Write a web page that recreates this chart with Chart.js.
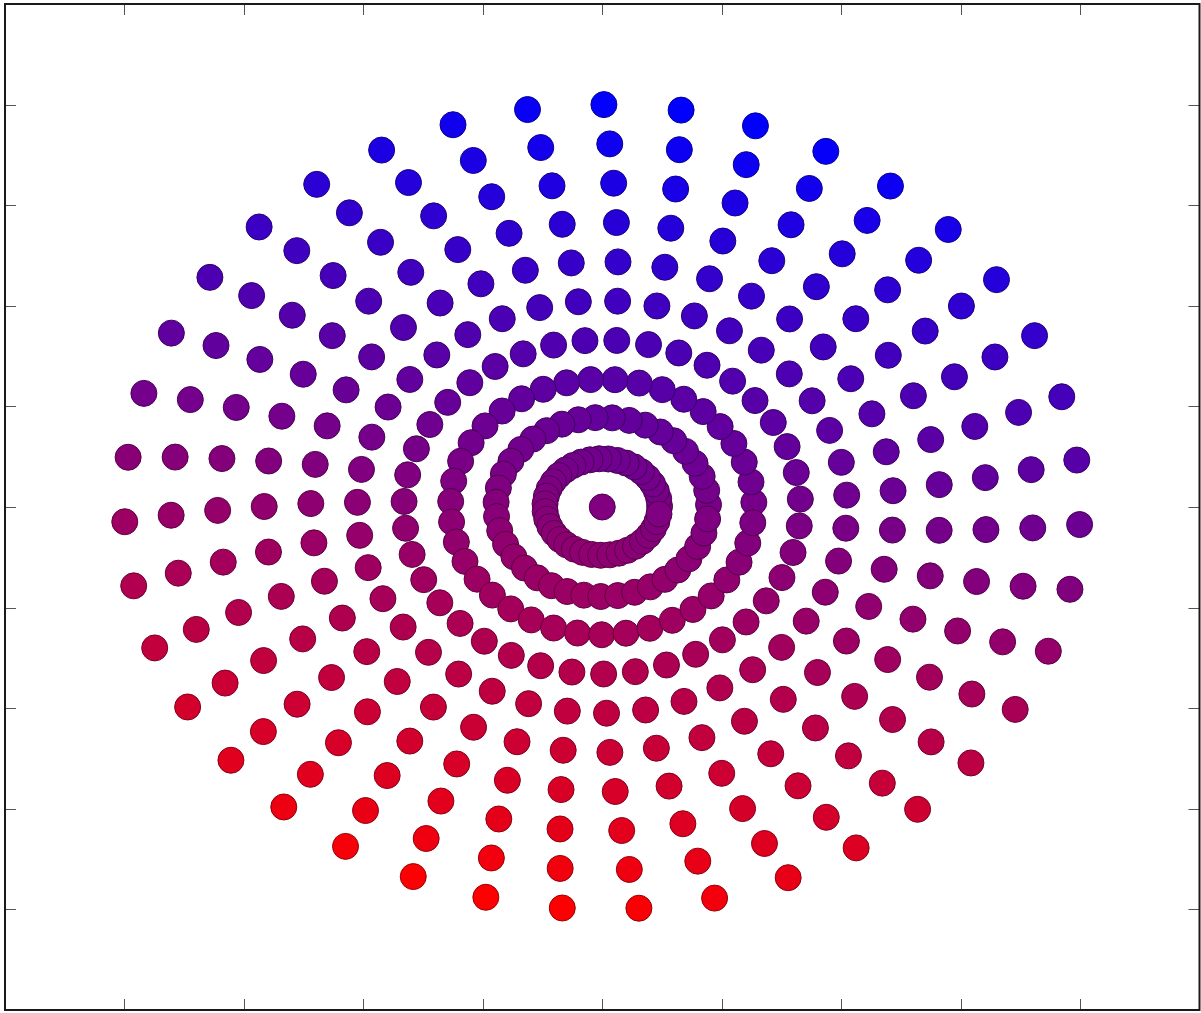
<!DOCTYPE html>
<html>
<head>
<meta charset="utf-8">
<title>Polar dot rings</title>
<script src="https://cdn.jsdelivr.net/npm/chart.js@4/dist/chart.umd.min.js"></script>
<style>
  html, body { margin: 0; padding: 0; background: #ffffff; overflow: hidden; }
  canvas { display: block; }
</style>
</head>
<body>
<canvas id="chart" width="1201" height="1013"></canvas>
<script>
// Ring radii (data units), innermost first; the first entry is the single centre dot.
const ringRadii = [0, 0.48, 0.89, 1.27, 1.66, 2.05, 2.44, 2.83, 3.22, 3.61, 4.0];
// Angular twist of each ring (degrees), same order as ringRadii.
const ringTwistDeg = [0, 0.8, 1.5, 2.1, 2.7, 3.3, 3.8, 4.5, 5.2, 5.9, 6.7];
// Spoke angles (degrees) shared by every ring.
const spokeAnglesDeg = [
  0, 9.2, 18.5, 27.7, 36.9, 46.2, 55.4, 64.6, 73.8, 83.1,
  92.3, 101.5, 110.8, 120.0, 129.2, 138.5, 147.7, 156.9, 166.2, 175.4,
  184.6, 193.8, 203.1, 212.3, 221.5, 230.8, 240.0, 249.2, 258.5, 267.7,
  276.9, 286.2, 295.4, 304.6, 313.8, 323.1, 332.3, 341.5, 350.8
];
// Tick positions on both axes.
const xTicks = [-4, -3, -2, -1, 0, 1, 2, 3, 4];
const yTicks = [-4, -3, -2, -1, 0, 1, 2, 3, 4];

// Polar (ring, spoke) pairs converted to x/y points.
const points = [];
ringRadii.forEach((r, i) => {
  if (r === 0) { points.push({ x: 0, y: 0 }); return; }
  spokeAnglesDeg.forEach(a => {
    const t = (a + ringTwistDeg[i]) * Math.PI / 180;
    points.push({ x: r * Math.cos(t), y: r * Math.sin(t) });
  });
});

// Blue at the top, red at the bottom, slightly tilted towards the lower left.
function mix(p, dark) {
  let f = 0.5 - (p.y + 0.2 * p.x) / 8.2;
  f = Math.max(0, Math.min(1, f));
  const k = dark ? 0.6 : 1;
  return `rgb(${Math.round(255 * f * k)},0,${Math.round(255 * (1 - f) * k)})`;
}

// Frame and inward-pointing ticks on all four sides.
const framePlugin = {
  id: 'frame',
  afterDraw(chart) {
    const { ctx, chartArea: a, scales: { x, y } } = chart;
    ctx.save();
    ctx.strokeStyle = '#555555';
    ctx.lineWidth = 1;
    const len = 11;
    ctx.beginPath();
    xTicks.forEach(v => {
      const px = Math.round(x.getPixelForValue(v)) + 0.5;
      ctx.moveTo(px, a.top); ctx.lineTo(px, a.top + len);
      ctx.moveTo(px, a.bottom); ctx.lineTo(px, a.bottom - len);
    });
    yTicks.forEach(v => {
      const py = Math.round(y.getPixelForValue(v)) + 0.5;
      ctx.moveTo(a.left, py); ctx.lineTo(a.left + len, py);
      ctx.moveTo(a.right, py); ctx.lineTo(a.right - len, py);
    });
    ctx.stroke();
    ctx.strokeStyle = '#1a1a1a';
    ctx.lineWidth = 2;
    ctx.strokeRect(a.left, a.top, a.right - a.left, a.bottom - a.top);
    ctx.restore();
  }
};

new Chart(document.getElementById('chart'), {
  type: 'scatter',
  data: {
    datasets: [{
      data: points,
      pointRadius: 13,
      pointHoverRadius: 13,
      borderWidth: 1,
      backgroundColor: c => mix(c.raw, false),
      borderColor: c => mix(c.raw, true)
    }]
  },
  options: {
    responsive: false,
    animation: false,
    events: [],
    layout: { autoPadding: false, padding: { left: 5, right: 1.5, top: 4, bottom: 3 } },
    plugins: { legend: { display: false }, tooltip: { enabled: false } },
    scales: {
      x: { type: 'linear', min: -5, max: 5, display: false },
      y: { type: 'linear', min: -5, max: 5, display: false }
    }
  },
  plugins: [framePlugin]
});
</script>
</body>
</html>
